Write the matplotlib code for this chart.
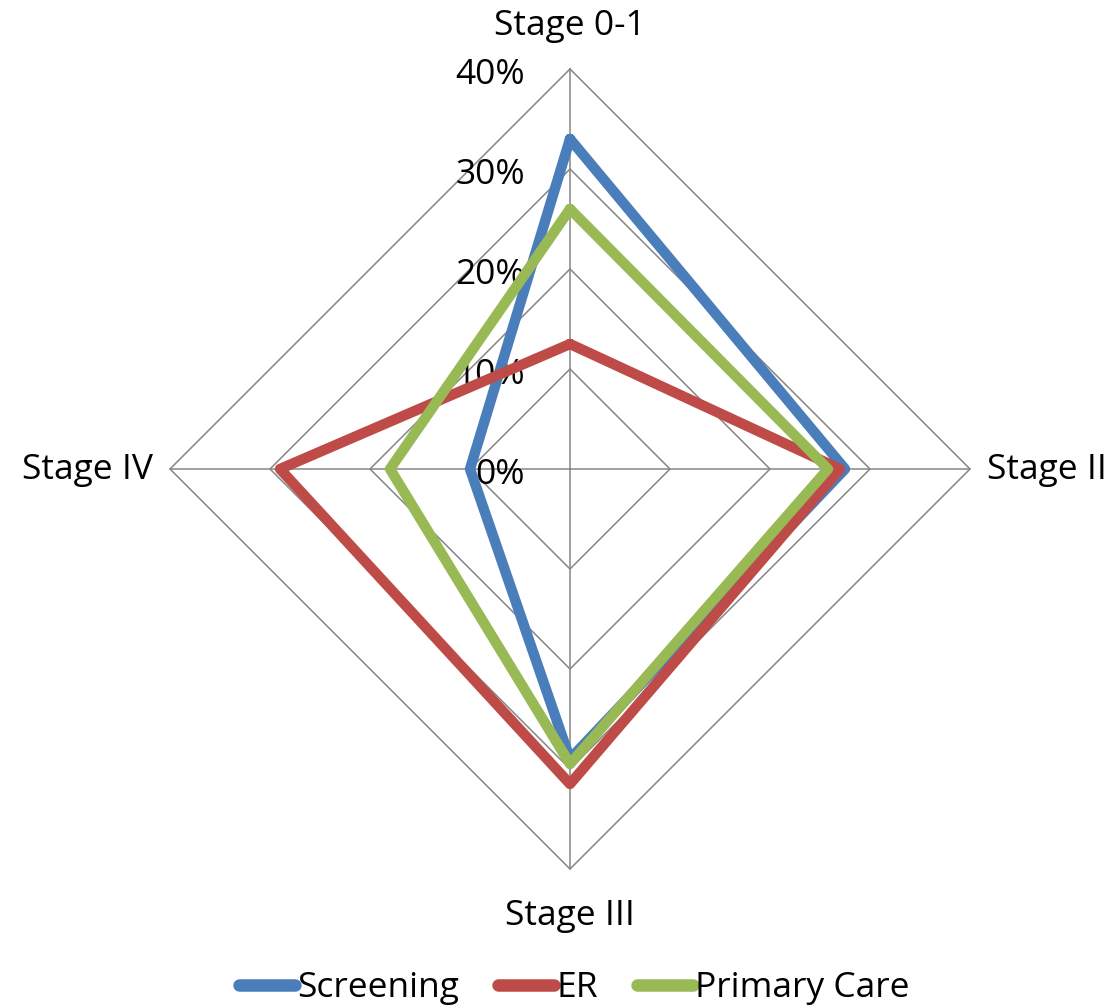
import numpy as np
import matplotlib
matplotlib.use("Agg")
import matplotlib.pyplot as plt
from matplotlib.lines import Line2D

categories = ["Stage 0-1", "Stage II", "Stage III", "Stage IV"]
screening = [33.0, 27.5, 29.0, 10.0]
er = [12.5, 27.0, 31.5, 29.0]
primary_care = [26.0, 25.8, 29.5, 18.0]
series_names = ["Screening", "ER", "Primary Care"]
tick_values = [0, 10, 20, 30, 40]
tick_labels = ["0%", "10%", "20%", "30%", "40%"]

colors = ["#4A7EBB", "#BE4B48", "#98B954"]
plt.rcParams['font.family'] = ['Open Sans', 'DejaVu Sans']

fig = plt.figure(figsize=(11.17, 10.06), dpi=100)
ax = fig.add_axes([0, 0, 1, 1])
ax.set_xlim(-57.0, 54.7)
ax.set_ylim(-53.7, 46.9)
ax.axis('off')

n = len(categories)
angles = np.arange(n) * 2 * np.pi / n  # clockwise from top


def to_xy(vals):
    v = np.asarray(vals, dtype=float)
    x = v * np.sin(angles)
    y = v * np.cos(angles)
    return np.append(x, x[0]), np.append(y, y[0])

grid_color = "#868686"
rmax = tick_values[-1]
for r in tick_values[1:]:
    gx, gy = to_xy([r] * n)
    ax.plot(gx, gy, color=grid_color, lw=1.1, zorder=1)
for a in angles:
    ax.plot([0, rmax * np.sin(a)], [0, rmax * np.cos(a)], color=grid_color, lw=1.1, zorder=1)

fs = 25.5
for v, lab in zip(tick_values, tick_labels):
    ax.text(-4.5, v - 1.5, lab, ha='right', va='baseline', fontsize=fs, zorder=2)

for name, vals, c in zip(series_names, [screening, er, primary_care], colors):
    x, y = to_xy(vals)
    ax.plot(x, y, color=c, lw=7.5, solid_joinstyle='round', solid_capstyle='round', zorder=3, label=name)

label_r = 41.7
ax.text(0, 43.4, categories[0], ha='center', va='baseline', fontsize=fs)
ax.text(label_r, -1.0, categories[1], ha='left', va='baseline', fontsize=fs)
ax.text(0, -45.6, categories[2], ha='center', va='baseline', fontsize=fs)
ax.text(-label_r, -1.0, categories[3], ha='right', va='baseline', fontsize=fs)

handles = [Line2D([0], [0], color=c, lw=9, solid_capstyle='round') for c in colors]
fig.legend(handles, series_names, loc='lower center', bbox_to_anchor=(0.514, -0.031), ncol=3,
           frameon=False, fontsize=fs, handlelength=1.6, handletextpad=0.05, columnspacing=1.1)

fig.savefig("out.png", dpi=100)
